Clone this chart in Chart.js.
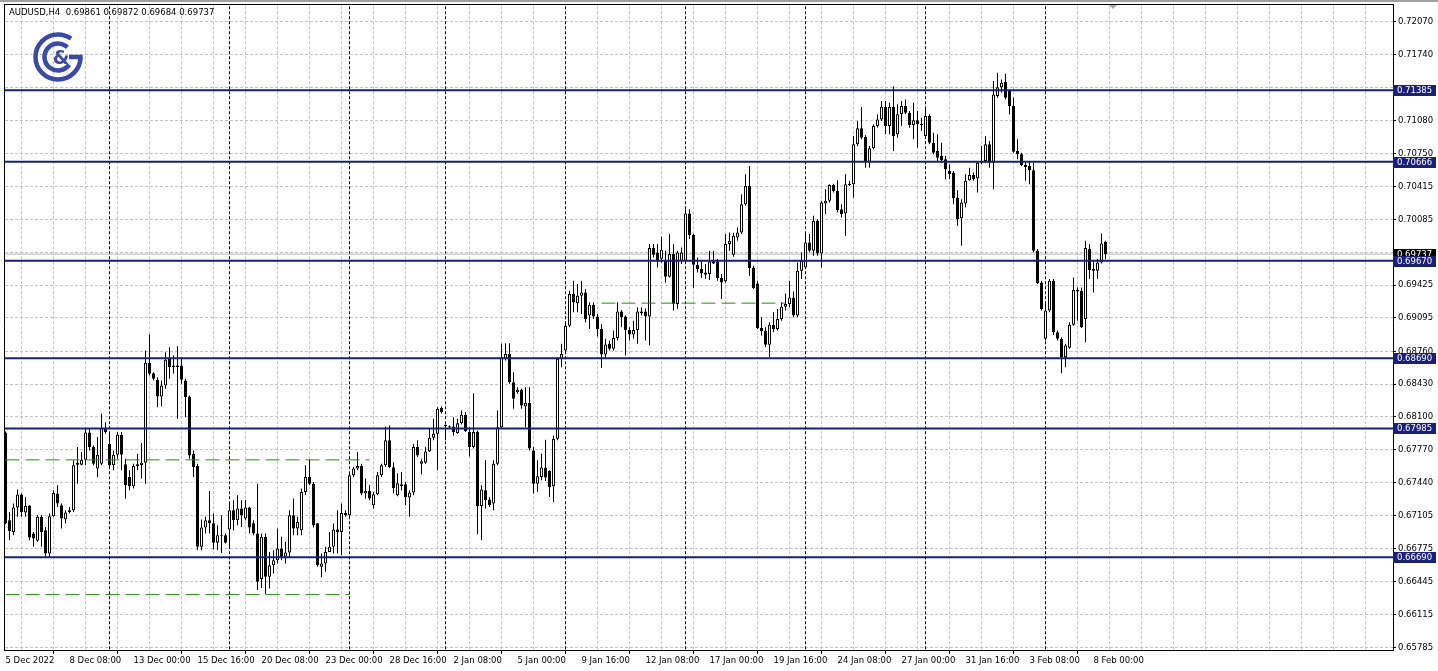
<!DOCTYPE html>
<html><head><meta charset="utf-8">
<script src="https://cdn.jsdelivr.net/npm/chart.js@4/dist/chart.umd.min.js"></script>
<style>html,body{margin:0;padding:0;background:#fff;overflow:hidden}#wrap{width:1438px;height:671px}</style>
</head><body><div id="wrap"><canvas id="c" width="1438" height="671"></canvas></div>
<script>
const symbol = 'AUDUSD,H4';
const openP = [0.67945,0.67062,0.66945,0.67190,0.67320,0.67140,0.67210,0.66929,0.66855,0.67096,0.66962,0.66728,0.67103,0.67330,0.67213,0.67072,0.67146,0.67163,0.67619,0.67621,0.67671,0.67945,0.67798,0.67581,0.67631,0.67988,0.67832,0.67614,0.67721,0.67922,0.67624,0.67497,0.67403,0.67604,0.67617,0.67641,0.68644,0.68540,0.68474,0.68306,0.68416,0.68684,0.68600,0.68617,0.68617,0.68467,0.68306,0.67731,0.67607,0.66795,0.66989,0.67062,0.67032,0.66835,0.66912,0.66912,0.66969,0.67163,0.67062,0.67180,0.67079,0.67190,0.67032,0.66929,0.66471,0.66895,0.66494,0.66611,0.66661,0.66779,0.66694,0.66738,0.67113,0.66979,0.66962,0.67346,0.67497,0.67430,0.67032,0.66594,0.66628,0.66744,0.66795,0.66969,0.66945,0.67136,0.67113,0.67514,0.67581,0.67607,0.67330,0.67356,0.67213,0.67323,0.67514,0.67614,0.67865,0.67594,0.67313,0.67423,0.67423,0.67290,0.67340,0.67798,0.67631,0.67641,0.67754,0.67892,0.67932,0.68193,0.68022,0.68008,0.68005,0.67938,0.68038,0.68123,0.67948,0.67798,0.67948,0.67206,0.67363,0.67270,0.67230,0.67631,0.67998,0.68684,0.68734,0.68449,0.68349,0.68373,0.68206,0.68243,0.67764,0.67430,0.67497,0.67591,0.67557,0.67403,0.67882,0.68684,0.68767,0.69018,0.69336,0.69242,0.69319,0.69352,0.69119,0.69229,0.69109,0.68985,0.68727,0.68835,0.68785,0.68895,0.69159,0.69109,0.68975,0.68928,0.68975,0.69142,0.69159,0.69109,0.69798,0.69753,0.69690,0.69670,0.69510,0.69737,0.69236,0.69670,0.69670,0.70145,0.69928,0.69630,0.69587,0.69553,0.69537,0.69643,0.69663,0.69497,0.69463,0.69838,0.69730,0.69904,0.69954,0.70239,0.70422,0.69603,0.69442,0.68995,0.68968,0.68825,0.69028,0.68985,0.69085,0.69209,0.69236,0.69302,0.69119,0.69570,0.69603,0.69854,0.69770,0.70071,0.69743,0.70245,0.70272,0.70432,0.70372,0.70189,0.70145,0.70432,0.70439,0.70841,0.71001,0.70914,0.70666,0.70801,0.71024,0.71091,0.71218,0.71024,0.71215,0.70941,0.71142,0.71225,0.71158,0.71034,0.71081,0.71047,0.70924,0.71125,0.70857,0.70773,0.70723,0.70690,0.70573,0.70556,0.70305,0.70098,0.70245,0.70480,0.70533,0.70500,0.70656,0.70673,0.70841,0.70656,0.71325,0.71415,0.71469,0.71382,0.71225,0.70773,0.70740,0.70633,0.70623,0.70580,0.69770,0.69452,0.68885,0.69169,0.69470,0.68951,0.68885,0.68700,0.68795,0.69028,0.69376,0.69369,0.69085,0.69788,0.69587,0.69570,0.69653,0.69861];
const highP = [0.67955,0.67146,0.67230,0.67370,0.67330,0.67296,0.67213,0.66945,0.67113,0.67113,0.66995,0.67130,0.67363,0.67413,0.67230,0.67163,0.67196,0.67664,0.67798,0.67747,0.67992,0.67982,0.67815,0.67898,0.68133,0.68048,0.67932,0.67764,0.67948,0.67948,0.67681,0.67564,0.67631,0.67731,0.67838,0.68767,0.68928,0.68550,0.68500,0.68467,0.68750,0.68801,0.68717,0.68811,0.68700,0.68484,0.68316,0.67764,0.67631,0.67069,0.67096,0.67356,0.67130,0.67012,0.67113,0.66929,0.67246,0.67263,0.67313,0.67263,0.67263,0.67196,0.67062,0.67430,0.66929,0.66929,0.66744,0.66761,0.66979,0.66895,0.66845,0.67163,0.67280,0.67096,0.67380,0.67614,0.67671,0.67446,0.67032,0.66728,0.66795,0.66945,0.67029,0.67163,0.67230,0.67163,0.67531,0.67597,0.67747,0.67631,0.67481,0.67413,0.67346,0.67547,0.67631,0.68005,0.68015,0.67644,0.67534,0.67547,0.67446,0.67363,0.67832,0.67865,0.67681,0.67798,0.67982,0.68082,0.68199,0.68206,0.68025,0.68015,0.68098,0.68082,0.68166,0.68149,0.67998,0.68339,0.67965,0.67413,0.67664,0.67296,0.67664,0.68166,0.68835,0.68841,0.68841,0.68550,0.68399,0.68383,0.68399,0.68399,0.67798,0.67664,0.67731,0.67872,0.67564,0.67915,0.68700,0.68835,0.69035,0.69369,0.69470,0.69436,0.69470,0.69386,0.69252,0.69252,0.69136,0.69035,0.68885,0.68868,0.68968,0.69252,0.69176,0.69119,0.69001,0.69068,0.69202,0.69202,0.69189,0.69838,0.69838,0.69838,0.69911,0.69770,0.69938,0.69838,0.69770,0.69804,0.70189,0.70189,0.69938,0.69703,0.69670,0.69637,0.69770,0.69770,0.69687,0.69537,0.69938,0.69954,0.69951,0.70004,0.70339,0.70540,0.70623,0.69620,0.69470,0.69102,0.69001,0.69051,0.69152,0.69186,0.69252,0.69342,0.69470,0.69362,0.69653,0.69753,0.69938,0.69938,0.70122,0.70088,0.70272,0.70389,0.70439,0.70445,0.70480,0.70239,0.70540,0.70473,0.70924,0.71074,0.71215,0.70934,0.70824,0.71041,0.71142,0.71275,0.71275,0.71258,0.71425,0.71242,0.71275,0.71292,0.71175,0.71258,0.71175,0.71107,0.71208,0.71142,0.70957,0.70941,0.70857,0.70723,0.70640,0.70573,0.70379,0.70289,0.70540,0.70606,0.70556,0.70673,0.70824,0.70924,0.70874,0.71476,0.71559,0.71493,0.71549,0.71392,0.71308,0.70891,0.70756,0.70673,0.70673,0.70656,0.69788,0.69470,0.69236,0.69487,0.69487,0.68968,0.68901,0.68835,0.69051,0.69503,0.69402,0.69402,0.69871,0.69838,0.69670,0.69687,0.69944,0.69872];
const lowP = [0.67022,0.66862,0.66912,0.67096,0.67096,0.67096,0.66862,0.66795,0.66845,0.66795,0.66694,0.66694,0.67096,0.67196,0.66979,0.67029,0.67130,0.67146,0.67430,0.67614,0.67614,0.67764,0.67614,0.67497,0.67614,0.67932,0.67597,0.67564,0.67681,0.67564,0.67280,0.67363,0.67380,0.67564,0.67481,0.67430,0.68517,0.68467,0.68199,0.68206,0.68383,0.68484,0.68534,0.68082,0.68433,0.68098,0.67681,0.67497,0.66761,0.66761,0.66929,0.66929,0.66768,0.66761,0.66734,0.66829,0.66795,0.66962,0.67012,0.66995,0.67062,0.66929,0.66912,0.66360,0.66380,0.66320,0.66377,0.66528,0.66628,0.66661,0.66628,0.66694,0.66912,0.66912,0.66912,0.67313,0.67413,0.66989,0.66594,0.66488,0.66544,0.66744,0.66728,0.66728,0.66711,0.67096,0.67096,0.67497,0.67564,0.67313,0.67280,0.67263,0.67180,0.67313,0.67497,0.67597,0.67584,0.67333,0.67303,0.67363,0.67213,0.67096,0.67313,0.67697,0.67524,0.67631,0.67747,0.67865,0.67564,0.68133,0.67865,0.67985,0.67915,0.67932,0.68025,0.67948,0.67704,0.67782,0.66922,0.66862,0.67180,0.67196,0.67163,0.67614,0.67982,0.68667,0.68433,0.68183,0.68333,0.68183,0.67998,0.67764,0.67330,0.67346,0.67464,0.67457,0.67296,0.67246,0.67865,0.68600,0.68734,0.69001,0.69152,0.69152,0.69136,0.69051,0.68985,0.69085,0.68908,0.68594,0.68684,0.68767,0.68767,0.68868,0.69001,0.68717,0.68868,0.68885,0.68835,0.69119,0.68868,0.68818,0.69703,0.69603,0.69650,0.69452,0.69503,0.69169,0.69186,0.69637,0.69653,0.69888,0.69396,0.69553,0.69497,0.69487,0.69477,0.69637,0.69470,0.69286,0.69452,0.69770,0.69710,0.69871,0.69938,0.70222,0.69520,0.69386,0.68985,0.68918,0.68801,0.68700,0.68951,0.68968,0.69068,0.69169,0.69202,0.69102,0.69102,0.69487,0.69587,0.69753,0.69720,0.69720,0.69603,0.70139,0.70255,0.70355,0.70155,0.70104,0.69921,0.70422,0.70305,0.70824,0.70891,0.70606,0.70606,0.70791,0.71007,0.71074,0.70941,0.70941,0.70773,0.70907,0.71024,0.71142,0.71007,0.70891,0.70807,0.70974,0.70907,0.70841,0.70740,0.70673,0.70656,0.70490,0.70490,0.70239,0.70021,0.69821,0.70205,0.70473,0.70473,0.70355,0.70640,0.70656,0.70606,0.70389,0.71308,0.71358,0.71292,0.71142,0.70756,0.70690,0.70623,0.70473,0.70439,0.69753,0.69436,0.69169,0.68868,0.69152,0.68925,0.68868,0.68540,0.68600,0.68785,0.69018,0.69068,0.68995,0.68851,0.69487,0.69352,0.69487,0.69643,0.69684];
const closeP = [0.67032,0.66955,0.67190,0.67320,0.67143,0.67206,0.66889,0.66879,0.67096,0.66945,0.66728,0.67103,0.67336,0.67230,0.67079,0.67140,0.67163,0.67614,0.67639,0.67671,0.67945,0.67798,0.67631,0.67721,0.67988,0.67948,0.67614,0.67721,0.67922,0.67721,0.67413,0.67403,0.67607,0.67624,0.67641,0.68644,0.68534,0.68484,0.68306,0.68416,0.68674,0.68600,0.68617,0.68602,0.68474,0.68299,0.67714,0.67597,0.66795,0.66989,0.67062,0.67032,0.66835,0.66912,0.66907,0.66835,0.67163,0.67062,0.67180,0.67113,0.67190,0.66989,0.66929,0.66444,0.66895,0.66494,0.66611,0.66661,0.66779,0.66694,0.66738,0.67113,0.66979,0.67045,0.67346,0.67497,0.67430,0.67012,0.66611,0.66628,0.66744,0.66795,0.66969,0.66945,0.67136,0.67113,0.67514,0.67581,0.67607,0.67330,0.67356,0.67280,0.67323,0.67514,0.67614,0.67865,0.67597,0.67383,0.67434,0.67403,0.67296,0.67340,0.67798,0.67714,0.67654,0.67754,0.67892,0.67932,0.68183,0.68149,0.68008,0.67998,0.67948,0.68038,0.68123,0.67958,0.67798,0.67948,0.67206,0.67370,0.67263,0.67213,0.67631,0.67998,0.68700,0.68734,0.68449,0.68283,0.68373,0.68216,0.68243,0.67782,0.67430,0.67504,0.67591,0.67491,0.67396,0.67882,0.68684,0.68734,0.69018,0.69336,0.69252,0.69319,0.69352,0.69085,0.69229,0.69109,0.68985,0.68727,0.68828,0.68785,0.68895,0.69159,0.69102,0.68975,0.68928,0.68975,0.69159,0.69159,0.69109,0.69798,0.69730,0.69663,0.69781,0.69510,0.69737,0.69236,0.69753,0.69753,0.70145,0.69928,0.69630,0.69587,0.69543,0.69530,0.69663,0.69663,0.69497,0.69452,0.69838,0.69871,0.69921,0.69954,0.70239,0.70422,0.69597,0.69396,0.68995,0.68961,0.68825,0.69028,0.68985,0.69085,0.69209,0.69236,0.69302,0.69119,0.69570,0.69670,0.69854,0.69770,0.70071,0.69743,0.70255,0.70272,0.70432,0.70372,0.70179,0.70139,0.70439,0.70445,0.70841,0.71001,0.70907,0.70666,0.70801,0.71024,0.71091,0.71218,0.71024,0.71215,0.70924,0.71142,0.71225,0.71158,0.71034,0.71081,0.71041,0.71034,0.71125,0.70857,0.70756,0.70706,0.70680,0.70590,0.70540,0.70299,0.70088,0.70255,0.70473,0.70533,0.70490,0.70656,0.70673,0.70841,0.70656,0.71342,0.71415,0.71458,0.71308,0.71225,0.70766,0.70740,0.70633,0.70613,0.70580,0.69770,0.69443,0.69186,0.69169,0.69470,0.68951,0.68885,0.68700,0.68818,0.69028,0.69376,0.69362,0.69001,0.69798,0.69577,0.69570,0.69653,0.69844,0.69737];

const xTickBars = [0,16,32,48,64,80,96,112,128,144,160,176,192,208,224,240,256,272];
const xTickLabels = ['5 Dec 2022','8 Dec 08:00','13 Dec 00:00','15 Dec 16:00','20 Dec 08:00','23 Dec 00:00','28 Dec 16:00','2 Jan 08:00','5 Jan 00:00','9 Jan 16:00','12 Jan 08:00','17 Jan 00:00','19 Jan 16:00','24 Jan 08:00','27 Jan 00:00','31 Jan 16:00','3 Feb 08:00','8 Feb 00:00'];
const weekStartBars = [26,56,86,110,140,170,200,230,260];
const yTickValues = [0.72070,0.71740,0.71410,0.71080,0.70750,0.70415,0.70085,0.69755,0.69425,0.69095,0.68760,0.68430,0.68100,0.67770,0.67440,0.67105,0.66775,0.66445,0.66115,0.65785];
const levelPrices = [0.71385,0.70666,0.69670,0.68690,0.67985,0.66690];
const bidPrice = 0.69737;
const greenLinePrices = [0.67669,0.66315,0.69244];
const greenLineFrom = [0,0,149];
const greenLineTo = [91,86,195];
const yMin = 0.65758, yMax = 0.72228;
const xSlots = 347;
const gridStepBars = 8;

const FONT = 'DejaVu Sans';
const NAVY = '#1a1f78';
const GREEN = '#2a8a18';

const xGridValues = [];
for (let v = 0; v < xSlots; v += gridStepBars) xGridValues.push(v);

const bodyData = openP.map((o, i) => ({x: i, y: [o, closeP[i]]}));
const wickData = openP.map((o, i) => ({x: i, y: [lowP[i], highP[i]]}));
const xEnd = xSlots - 0.125;
const boxPrices = levelPrices.concat([bidPrice]);

const datasets = [];
levelPrices.forEach(p => datasets.push({type: 'line', data: [{x: -0.125, y: p}, {x: xEnd, y: p}], borderColor: NAVY, borderWidth: 2, pointRadius: 0, order: 0}));
greenLinePrices.forEach((p, k) => datasets.push({type: 'line', data: [{x: greenLineFrom[k], y: p}, {x: greenLineTo[k], y: p}], borderColor: GREEN, borderWidth: 1, borderDash: [14, 6], pointRadius: 0, order: 0}));
datasets.push({type: 'bar', data: bodyData, barThickness: 3, grouped: false, inflateAmount: 0, minBarLength: 1, borderSkipped: false, borderWidth: 1, borderColor: '#000',
  backgroundColor: c => (closeP[c.dataIndex] >= openP[c.dataIndex] ? '#ffffff' : '#000000'), order: 1});
datasets.push({type: 'bar', data: wickData, barThickness: 1, grouped: false, inflateAmount: 0, borderWidth: 0, backgroundColor: '#000', order: 2});
datasets.push({type: 'line', data: [{x: -0.125, y: bidPrice}, {x: xEnd, y: bidPrice}], borderColor: '#b8b8b8', borderWidth: 1, pointRadius: 0, order: 3});

function box(ctx, y, text, bg) {
  const yy = Math.round(y);
  ctx.fillStyle = bg;
  ctx.fillRect(1393, yy - 5, 43, 11);
  ctx.fillStyle = '#fff';
  ctx.font = '8.5px "' + FONT + '"';
  ctx.textAlign = 'left';
  ctx.textBaseline = 'middle';
  ctx.fillText(text, 1397, yy + 0.5);
}

const decor = {
  id: 'decor',
  beforeDatasetsDraw(chart) {
    const {ctx, chartArea: a, scales: {x}} = chart;
    ctx.save();
    ctx.strokeStyle = '#000';
    ctx.lineWidth = 1;
    ctx.setLineDash([3, 2]);
    weekStartBars.forEach(b => {
      const px = Math.floor(x.getPixelForValue(b)) + 0.5;
      ctx.beginPath(); ctx.moveTo(px, a.top); ctx.lineTo(px, a.bottom); ctx.stroke();
    });
    ctx.restore();
  },
  afterDraw(chart) {
    const {ctx, chartArea: a, scales: {y}} = chart;
    ctx.save();
    ctx.strokeStyle = '#000'; ctx.lineWidth = 1; ctx.setLineDash([]);
    ctx.beginPath();
    ctx.moveTo(4.5, 4); ctx.lineTo(4.5, a.bottom + 1);
    ctx.moveTo(4, 4.5); ctx.lineTo(a.right + 1, 4.5);
    ctx.moveTo(a.right + 0.5, 4); ctx.lineTo(a.right + 0.5, a.bottom + 1);
    ctx.moveTo(4, a.bottom + 0.5); ctx.lineTo(a.right + 1, a.bottom + 0.5);
    ctx.stroke();
    ctx.fillStyle = '#a0a0a0'; ctx.fillRect(0, 0, 1438, 2);
    const last = closeP.length - 1;
    ctx.fillStyle = '#000';
    ctx.font = '8.5px "' + FONT + '"';
    ctx.textAlign = 'left'; ctx.textBaseline = 'middle';
    ctx.fillText(symbol + '  ' + openP[last].toFixed(5) + ' ' + highP[last].toFixed(5) + ' ' + lowP[last].toFixed(5) + ' ' + closeP[last].toFixed(5), 9, 13);
    const cx = 58, cy = 57, col = '#3b49a8';
    ctx.strokeStyle = col; ctx.lineWidth = 4.5;
    ctx.beginPath(); ctx.arc(cx, cy, 22.5, 0, Math.PI * 2 - 0.95); ctx.stroke();
    ctx.beginPath(); ctx.moveTo(cx + 24.5, cy); ctx.lineTo(cx + 11, cy); ctx.stroke();
    ctx.beginPath(); ctx.arc(cx, cy, 13.5, 0.6, Math.PI * 2 - 0.8); ctx.stroke();
    ctx.fillStyle = col; ctx.font = 'bold 19px "' + FONT + '"';
    ctx.textAlign = 'center'; ctx.textBaseline = 'middle';
    ctx.fillText('&', cx + 3, cy + 2);
    ctx.fillStyle = '#a8a8a8';
    ctx.beginPath(); ctx.moveTo(1109, 5); ctx.lineTo(1117, 5); ctx.lineTo(1113, 9); ctx.closePath(); ctx.fill();
    box(ctx, y.getPixelForValue(bidPrice), bidPrice.toFixed(5), '#000');
    levelPrices.forEach(p => box(ctx, y.getPixelForValue(p), p.toFixed(5), NAVY));
    ctx.restore();
  }
};

new Chart(document.getElementById('c'), {
  type: 'bar',
  data: {datasets},
  plugins: [decor],
  options: {
    responsive: false, animation: false, devicePixelRatio: 1,
    layout: {padding: {left: 5, top: 5, right: 0, bottom: 0}},
    plugins: {legend: {display: false}, tooltip: {enabled: false}, title: {display: false}},
    scales: {
      x: {
        type: 'linear', position: 'bottom', min: -0.125, max: xEnd, offset: false,
        afterBuildTicks: s => { s.ticks = xGridValues.map(v => ({value: v})); },
        afterFit: s => { s.height = 21; },
        ticks: {autoSkip: false, maxRotation: 0, minRotation: 0, align: 'start', padding: 3, color: '#000',
          font: {family: FONT, size: 8.5, lineHeight: 1},
          callback: v => { const k = xTickBars.indexOf(v); return k < 0 ? '' : xTickLabels[k]; }},
        grid: {color: '#c4c4c4', lineWidth: 1, drawTicks: true, tickLength: 4,
          tickColor: c => (c.tick && xTickBars.includes(c.tick.value) ? '#000' : 'rgba(0,0,0,0)')},
        border: {display: false, dash: [3, 2]}
      },
      y: {
        type: 'linear', position: 'right', min: yMin, max: yMax,
        afterBuildTicks: s => { s.ticks = yTickValues.map(v => ({value: v})); },
        afterFit: s => { s.width = 45; },
        ticks: {color: '#000', padding: 2, font: {family: FONT, size: 8.5, lineHeight: 1},
          callback: v => (boxPrices.some(p => Math.abs(p - v) < 0.0005) ? '' : Number(v).toFixed(5))},
        grid: {color: '#c4c4c4', lineWidth: 1, tickLength: 3, tickColor: '#000'},
        border: {display: false, dash: [3, 2]}
      }
    }
  }
});
</script></body></html>
